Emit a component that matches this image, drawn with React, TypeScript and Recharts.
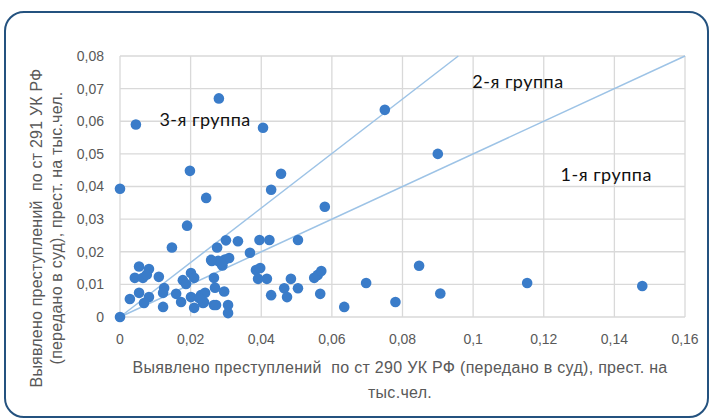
import React from 'react'
import {
  ScatterChart,
  Scatter,
  XAxis,
  YAxis,
  CartesianGrid,
  ReferenceLine,
  ReferenceDot,
} from 'recharts'

// x: ст 290, y: ст 291 (прест. на тыс.чел.)
const xValues = [
  0, 0.0045, 0.028, 0.0405, 0.075, 0.09, 0.0198, 0, 0.0244, 0.0456, 0.0428, 0.019,
  0.058, 0.0147, 0.0275, 0.03, 0.0334, 0.0395, 0.0423, 0.0504, 0.0368, 0.026, 0.0278,
  0.029, 0.0297, 0.0309, 0.0286, 0.0385, 0.0397, 0.0391, 0.0416, 0.0484, 0.055, 0.056,
  0.057, 0.0428, 0.0465, 0.0473, 0.0504, 0.0567, 0.0635, 0.0697, 0.078, 0.0847, 0.0907,
  0.1153, 0.1479, 0.0054, 0.0082, 0.0042, 0.0065, 0.0076, 0.011, 0.0028, 0.0054, 0.0082,
  0.0068, 0.0122, 0.0125, 0.0122, 0.0159, 0.0178, 0.0201, 0.021, 0.0187, 0.0173, 0.0201,
  0.021, 0.0229, 0.0235, 0.0266, 0.0258, 0.0266, 0.0269, 0.0295, 0.0272, 0.0306, 0.0306,
  0.0241, 0.0238, 0.0224,
]
const yValues = [
  0, 0.059, 0.067, 0.058, 0.0635, 0.05, 0.0448, 0.0393, 0.0365, 0.0439, 0.039, 0.028,
  0.0338, 0.0213, 0.0213, 0.0235, 0.0232, 0.0236, 0.0236, 0.0236, 0.0197, 0.0172, 0.0172,
  0.0158, 0.0176, 0.0181, 0.0165, 0.0144, 0.015, 0.0117, 0.0117, 0.0117, 0.012, 0.0129,
  0.0141, 0.0067, 0.0088, 0.0061, 0.0088, 0.0071, 0.0031, 0.0104, 0.0046, 0.0157, 0.0072,
  0.0104, 0.0095, 0.0155, 0.0147, 0.012, 0.012, 0.013, 0.0123, 0.0055, 0.0074, 0.0061,
  0.0043, 0.0031, 0.0089, 0.0074, 0.0071, 0.0113, 0.0135, 0.012, 0.0101, 0.0046, 0.0061,
  0.0028, 0.0067, 0.0043, 0.0037, 0.0175, 0.012, 0.009, 0.0078, 0.0037, 0.0037, 0.0012,
  0.0074, 0.0045, 0.0058,
]

const xTicks = [0, 0.02, 0.04, 0.06, 0.08, 0.1, 0.12, 0.14, 0.16]
const yTicks = [0, 0.01, 0.02, 0.03, 0.04, 0.05, 0.06, 0.07, 0.08]

// group boundary lines (end points) and group labels
const group1Line = [{ x: 0, y: 0 }, { x: 0.16, y: 0.08 }]
const group2Line = [{ x: 0, y: 0 }, { x: 0.0958, y: 0.08 }]
const groupLabels = [
  { name: '3-я группа', x: 0.0241, y: 0.0604 },
  { name: '2-я группа', x: 0.1127, y: 0.0721 },
  { name: '1-я группа', x: 0.1377, y: 0.0436 },
]

const points = xValues.map((x, i) => ({ x, y: yValues[i] }))

const FONT = '"Liberation Sans", sans-serif'
const GRAY = '#595959'

const fmt = (v: number) => (v === 0 ? '0' : String(v).replace('.', ','))

const dot = (props: any) => (
  <circle cx={props.cx} cy={props.cy} r={5.3} fill="#3a7cc9" />
)

export default function App() {
  return (
    <div style={{ position: 'absolute', left: 0, top: 0, width: 713, height: 419, background: '#fff' }}>
      <div
        style={{
          position: 'absolute',
          left: 4,
          top: 11,
          width: 701,
          height: 403,
          border: '2.5px solid #24527f',
          borderRadius: 20,
        }}
      />
      <div style={{ position: 'absolute', left: 0, top: 0 }}>
        <ScatterChart
          width={713}
          height={419}
          margin={{ top: 56, right: 28, bottom: 72, left: 80 }}
          style={{ fontFamily: FONT }}
        >
          <CartesianGrid stroke="#d9d9d9" strokeWidth={1.3} />
          <XAxis
            type="number"
            dataKey="x"
            domain={[0, 0.16]}
            ticks={xTicks}
            tickFormatter={fmt}
            axisLine={false}
            tickLine={false}
            tickSize={0}
            tickMargin={17}
            height={30}
            tick={{ fill: GRAY, fontSize: 14 }}
            label={{
              content: () => (
                <text
                  x={400}
                  y={373}
                  textAnchor="middle"
                  fill={GRAY}
                  fontSize={16}
                  letterSpacing={0.3}
                  style={{ whiteSpace: 'pre' }}
                >
                  <tspan x={400}>Выявлено преступлений  по ст 290 УК РФ (передано в суд), прест. на</tspan>
                  <tspan x={400} dy={25}>тыс.чел.</tspan>
                </text>
              ),
            }}
          />
          <YAxis
            type="number"
            dataKey="y"
            domain={[0, 0.08]}
            ticks={yTicks}
            tickFormatter={fmt}
            axisLine={false}
            tickLine={false}
            tickSize={0}
            tickMargin={16}
            width={40}
            tick={{ fill: GRAY, fontSize: 14 }}
            label={{
              content: () => (
                <text
                  transform="translate(42,228) rotate(-90)"
                  textAnchor="middle"
                  fill={GRAY}
                  fontSize={16}
                  letterSpacing={0.2}
                  style={{ whiteSpace: 'pre' }}
                >
                  <tspan x={0} y={0}>Выявлено преступлений  по ст 291 УК РФ</tspan>
                  <tspan x={0} dy={20}>(передано в суд), прест. на тыс.чел.</tspan>
                </text>
              ),
            }}
          />
          <ReferenceLine segment={group1Line} stroke="#9dc3e6" strokeWidth={1.5} />
          <ReferenceLine segment={group2Line} stroke="#9dc3e6" strokeWidth={1.5} />
          <Scatter data={points} shape={dot} isAnimationActive={false} />
          {groupLabels.map((g) => (
            <ReferenceDot
              key={g.name}
              x={g.x}
              y={g.y}
              r={0}
              stroke="none"
              fill="none"
              label={{
                value: g.name,
                position: 'center',
                fill: '#111',
                fontSize: 18,
                letterSpacing: 0.5,
                fontFamily: 'Lato, sans-serif',
              }}
            />
          ))}
        </ScatterChart>
      </div>
    </div>
  )
}
